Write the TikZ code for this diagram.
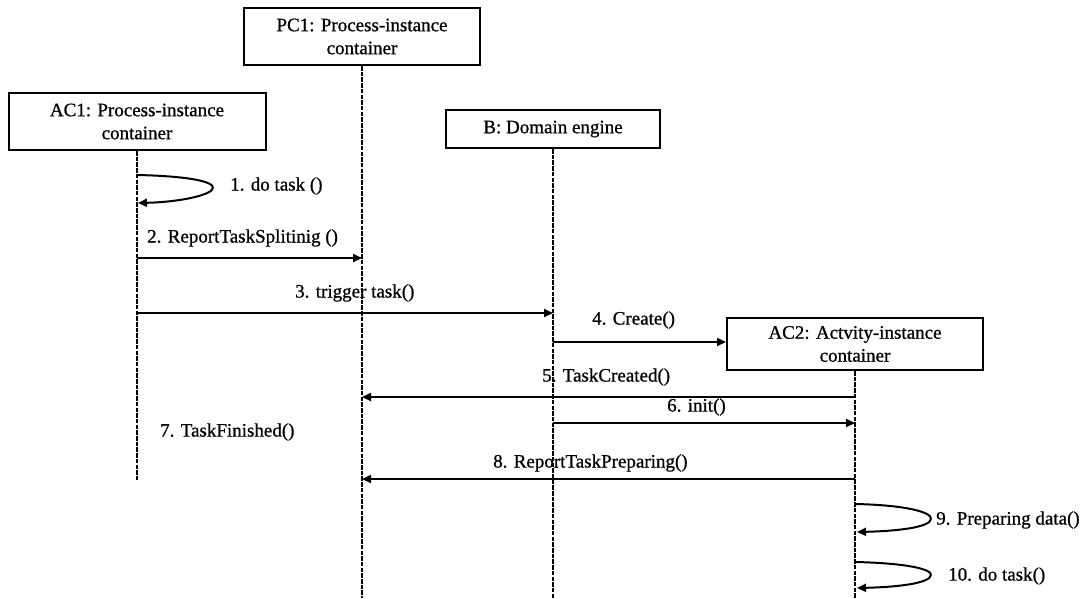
\documentclass[tikz,border=0pt]{standalone}
\usepackage{fontspec}
\setmainfont{Liberation Serif}[FakeBold=0.8]
\usetikzlibrary{arrows.meta}
\begin{document}
\begin{tikzpicture}[x=1pt,y=-1pt,
  obj/.style={draw, line width=2pt, align=center, inner sep=0pt,
              font=\fontsize{19}{23}\selectfont},
  lifeline/.style={line width=2.4pt, dash pattern=on 4.5pt off 1.2pt},
  msg/.style={line width=2pt, -{Triangle[length=9pt,width=8pt]}},
  lbl/.style={anchor=west, inner sep=0pt, font=\fontsize{19}{23}\selectfont}]
\useasboundingbox (0,0) rectangle (1089,598);

% objects
\node[obj, minimum width=257pt, minimum height=57pt] (ac1) at (137,121.5) {AC1: Process-instance\\container};
\node[obj, minimum width=236pt, minimum height=57pt] (pc1) at (362,36.5) {PC1: Process-instance\\container};
\node[obj, minimum width=214pt, minimum height=38pt] (b) at (553,129) {B: Domain engine};
\node[obj, minimum width=256pt, minimum height=52pt] (ac2) at (855,344) {AC2: Actvity-instance\\container};

% lifeline ends
\coordinate (ac1end) at (137,480);
\coordinate (pc1end) at (362,598);
\coordinate (bend) at (553,598);
\coordinate (ac2end) at (855,598);

\draw[lifeline] (ac1.south) -- (ac1end);
\draw[lifeline, line width=2.8pt] (pc1.south) -- (pc1end);
\draw[lifeline] (b.south) -- (bend);
\draw[lifeline, line width=2pt] (ac2.south) -- (ac2end);

% message anchors on lifelines
\coordinate (l1s) at (137,175);
\coordinate (l1t) at (213,188);
\coordinate (l1e) at (138,203);
\coordinate (m2s) at (137,258);
\coordinate (m2e) at (362,258);
\coordinate (m3s) at (137,313);
\coordinate (m3e) at (553,313);
\coordinate (m4s) at (553,342);
\coordinate (m5s) at (855,397);
\coordinate (m5e) at (362,397);
\coordinate (m6s) at (553,423);
\coordinate (m6e) at (855,423);
\coordinate (m8s) at (855,479);
\coordinate (m8e) at (362,479);
\coordinate (l9s) at (855,504);
\coordinate (l9t) at (931,519);
\coordinate (l9e) at (857,532);
\coordinate (l10s) at (855,562);
\coordinate (l10t) at (931,575);
\coordinate (l10e) at (857,588);

% messages
\draw[line width=2pt] (l1s) .. controls (185,176) and (214,181) .. (l1t);
\draw[msg] (l1t) .. controls (212,195) and (180,202) .. (l1e);
\draw[msg] (m2s) -- (m2e);
\draw[msg] (m3s) -- (m3e);
\draw[msg] (m4s) -- (ac2.west |- m4s);
\draw[msg] (m5s) -- (m5e);
\draw[msg] (m6s) -- (m6e);
\draw[msg] (m8s) -- (m8e);
\draw[line width=2pt] (l9s) .. controls (905,505) and (932,512) .. (l9t);
\draw[msg] (l9t) .. controls (930,527) and (900,531) .. (l9e);
\draw[line width=2pt] (l10s) .. controls (905,563) and (932,569) .. (l10t);
\draw[msg] (l10t) .. controls (930,583) and (900,587) .. (l10e);

% labels
\node[lbl] (t1) at (230,186) {1. do task ()};
\node[lbl] (t2) at (147,238) {2. ReportTaskSplitinig ()};
\node[lbl] (t3) at (295,293) {3. trigger task()};
\node[lbl] (t4) at (592,320) {4. Create()};
\node[lbl] (t5) at (542,377) {5. TaskCreated()};
\node[lbl] (t6) at (667,407) {6. init()};
\node[lbl] (t7) at (160,432) {7. TaskFinished()};
\node[lbl] (t8) at (493,463) {8. ReportTaskPreparing()};
\node[lbl] (t9) at (936,520) {9. Preparing data()};
\node[lbl] (t10) at (948,576) {10. do task()};
\end{tikzpicture}
\end{document}
